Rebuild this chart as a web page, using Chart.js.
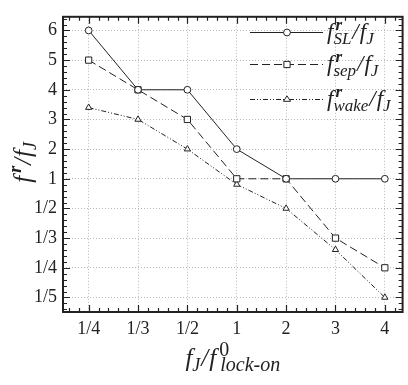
<!DOCTYPE html>
<html><head><meta charset="utf-8">
<script src="https://cdn.jsdelivr.net/npm/chart.js@4/dist/chart.umd.min.js"></script>
<style>html,body{margin:0;padding:0;background:#fff}#wrap{width:408px;height:385px;position:relative}</style>
</head><body><div id="wrap"><canvas id="c"></canvas></div>
<script>
// ---- data ----
const xLabels = ['1/4','1/3','1/2','1','2','3','4'];
const yLabels = ['6','5','4','3','2','1','1/2','1/3','1/4','1/5'];
const yTickValues = [6,5,4,3,2,1,1/2,1/3,1/4,1/5];
const slValues = [6,4,4,2,1,1,1];
const sepValues = [5,4,3,1,1,1/3,1/4];
const wakeValues = [3.4,3,2,0.84,0.5,0.295,0.2];
const seriesSubs = ['SL','sep','wake'];

// axis transform: values >= 1 spaced linearly, values < 1 spaced by reciprocal
const toAxis = v => v >= 1 ? v : 2 - 1/v;
const FONT = '"Liberation Serif", "Times New Roman", serif';
const INK = '#222';

const styles = [
  {pointStyle:'circle', radius:3.4, dash:[]},
  {pointStyle:'rect', radius:4.4, dash:[8,4]},
  {pointStyle:'triangle', radius:3.6, dash:[5,2,1,2,1,2]}
];
const seriesValues = [slValues, sepValues, wakeValues];

const datasets = seriesValues.map((vals, k) => ({
  label: seriesSubs[k],
  data: vals.map((v, i) => ({x: i, y: toAxis(v)})),
  borderColor: INK, borderWidth: 1, borderDash: styles[k].dash,
  pointStyle: styles[k].pointStyle, pointRadius: styles[k].radius,
  pointBackgroundColor: '#fff', pointBorderColor: INK, pointBorderWidth: 1,
  tension: 0, fill: false
}));

function rich(ctx, x, y, parts, measureOnly) {
  let cx = x;
  for (const p of parts) {
    ctx.font = p.f;
    const w = ctx.measureText(p.t).width;
    const px = cx + (p.dx || 0);
    if (!measureOnly) ctx.fillText(p.t, px, y + (p.dy || 0));
    if (p.adv !== false) cx = px + w;
  }
  return cx - x;
}
function titleParts(sub, main, small) {
  return [
    {t:'f', f:`italic ${main}px ${FONT}`},
    {t:'r', f:`italic bold ${small}px ${FONT}`, dy:-9, dx:2, adv:false},
    {t:sub, f:`italic ${small}px ${FONT}`, dy:5, dx:0},
    {t:'/', f:`italic ${main}px ${FONT}`, dx:1},
    {t:'f', f:`italic ${main}px ${FONT}`, dx:1},
    {t:'J', f:`italic ${small}px ${FONT}`, dy:5, dx:0}
  ];
}
function marker(ctx, style, x, y, r) {
  ctx.beginPath();
  if (style === 'circle') ctx.arc(x, y, r, 0, Math.PI*2);
  else if (style === 'rect') { const s = Math.SQRT1_2 * r; ctx.rect(x-s, y-s, 2*s, 2*s); }
  else { const s = r*Math.sqrt(3)/2*1.15;
    ctx.moveTo(x, y - r); ctx.lineTo(x + s, y + r/2); ctx.lineTo(x - s, y + r/2); ctx.closePath(); }
  ctx.fillStyle = '#fff'; ctx.fill();
  ctx.setLineDash([]); ctx.lineWidth = 1; ctx.strokeStyle = INK; ctx.stroke();
}

const decor = {
  id: 'decor',
  afterDraw(chart) {
    const {ctx, chartArea: a, scales: {x, y}} = chart;
    ctx.save();
    ctx.strokeStyle = INK; ctx.fillStyle = INK;
    // ticks
    ctx.lineWidth = 1.2;
    ctx.beginPath();
    for (let v = -0.4; v <= 6.3; v += 0.2) {
      const px = Math.round(x.getPixelForValue(v)) + 0.5;
      const major = Math.abs(v - Math.round(v)) < 1e-6;
      const L = major ? 7 : 4;
      ctx.moveTo(px, a.bottom); ctx.lineTo(px, a.bottom - L);
      ctx.moveTo(px, a.top); ctx.lineTo(px, a.top + L);
    }
    for (let v = -3.4; v <= 6.45; v += 0.2) {
      const py = Math.round(y.getPixelForValue(v)) + 0.5;
      const major = Math.abs(v - Math.round(v)) < 1e-6;
      const L = major ? 7 : 4;
      ctx.moveTo(a.left, py); ctx.lineTo(a.left + L, py);
      ctx.moveTo(a.right, py); ctx.lineTo(a.right - L, py);
    }
    ctx.stroke();
    // frame
    ctx.lineWidth = 2;
    ctx.strokeRect(a.left, a.top, a.right - a.left, a.bottom - a.top);
    // legend
    const ly = [32, 64, 99];
    for (let k = 0; k < 3; k++) {
      ctx.setLineDash(styles[k].dash); ctx.lineWidth = 1; ctx.strokeStyle = INK;
      ctx.beginPath(); ctx.moveTo(250, ly[k] + 0.5); ctx.lineTo(323, ly[k] + 0.5); ctx.stroke();
      marker(ctx, styles[k].pointStyle, 287, ly[k] + 0.5, styles[k].radius);
      ctx.fillStyle = INK; ctx.textBaseline = 'alphabetic'; ctx.textAlign = 'left';
      rich(ctx, 327, ly[k] + 7, titleParts(seriesSubs[k], 23, 17));
    }
    // y title
    ctx.save();
    ctx.translate(31, (a.top + a.bottom) / 2 - 2);
    ctx.rotate(-Math.PI/2);
    const yp = [
      {t:'f', f:`italic 25px ${FONT}`},
      {t:'r', f:`italic bold 18px ${FONT}`, dy:-10, dx:3},
      {t:'/', f:`italic 25px ${FONT}`, dx:1},
      {t:'f', f:`italic 25px ${FONT}`, dx:1},
      {t:'J', f:`italic 18px ${FONT}`, dy:5, dx:0}
    ];
    const yw = rich(ctx, 0, 0, yp, true);
    rich(ctx, -yw/2, 0, yp);
    ctx.restore();
    // x title
    const xp = [
      {t:'f', f:`italic 25px ${FONT}`},
      {t:'J', f:`italic 18px ${FONT}`, dy:5},
      {t:'/', f:`italic 25px ${FONT}`, dx:1},
      {t:'f', f:`italic 25px ${FONT}`, dx:1},
      {t:'0', f:`20px ${FONT}`, dy:-10, dx:3, adv:false},
      {t:'lock-on', f:`italic 20px ${FONT}`, dy:5, dx:4}
    ];
    const xw = rich(ctx, 0, 0, xp, true);
    rich(ctx, (a.left + a.right)/2 - xw/2, 366, xp);
    ctx.restore();
  }
};

new Chart(document.getElementById('c'), {
  type: 'line',
  data: { datasets },
  options: {
    responsive: true, maintainAspectRatio: false, animation: false,
    layout: { padding: { top: 1, right: 1, left: 0, bottom: 0 } },
    plugins: { legend: { display: false }, tooltip: { enabled: false } },
    scales: {
      x: {
        type: 'linear', min: -0.52, max: 6.36,
        afterBuildTicks: s => { s.ticks = xLabels.map((_, i) => ({value: i})); },
        afterFit: s => { s.height = 73; },
        ticks: { callback: (v, i) => xLabels[i], font: {family: FONT, size: 18}, color: INK, padding: 6, maxRotation: 0, autoSkip: false },
        grid: { color: '#b8b8b8', lineWidth: 1, drawTicks: false },
        border: { display: false, dash: [1, 2] }
      },
      y: {
        type: 'linear', min: -3.49, max: 6.46,
        afterBuildTicks: s => { s.ticks = yTickValues.map(v => ({value: toAxis(v)})); },
        afterFit: s => { s.width = 63; },
        ticks: { callback: (v, i) => yLabels[i], font: {family: FONT, size: 18}, color: INK, padding: 6, autoSkip: false },
        grid: { color: '#b8b8b8', lineWidth: 1, drawTicks: false },
        border: { display: false, dash: [1, 2] }
      }
    }
  },
  plugins: [decor]
});
</script></body></html>
